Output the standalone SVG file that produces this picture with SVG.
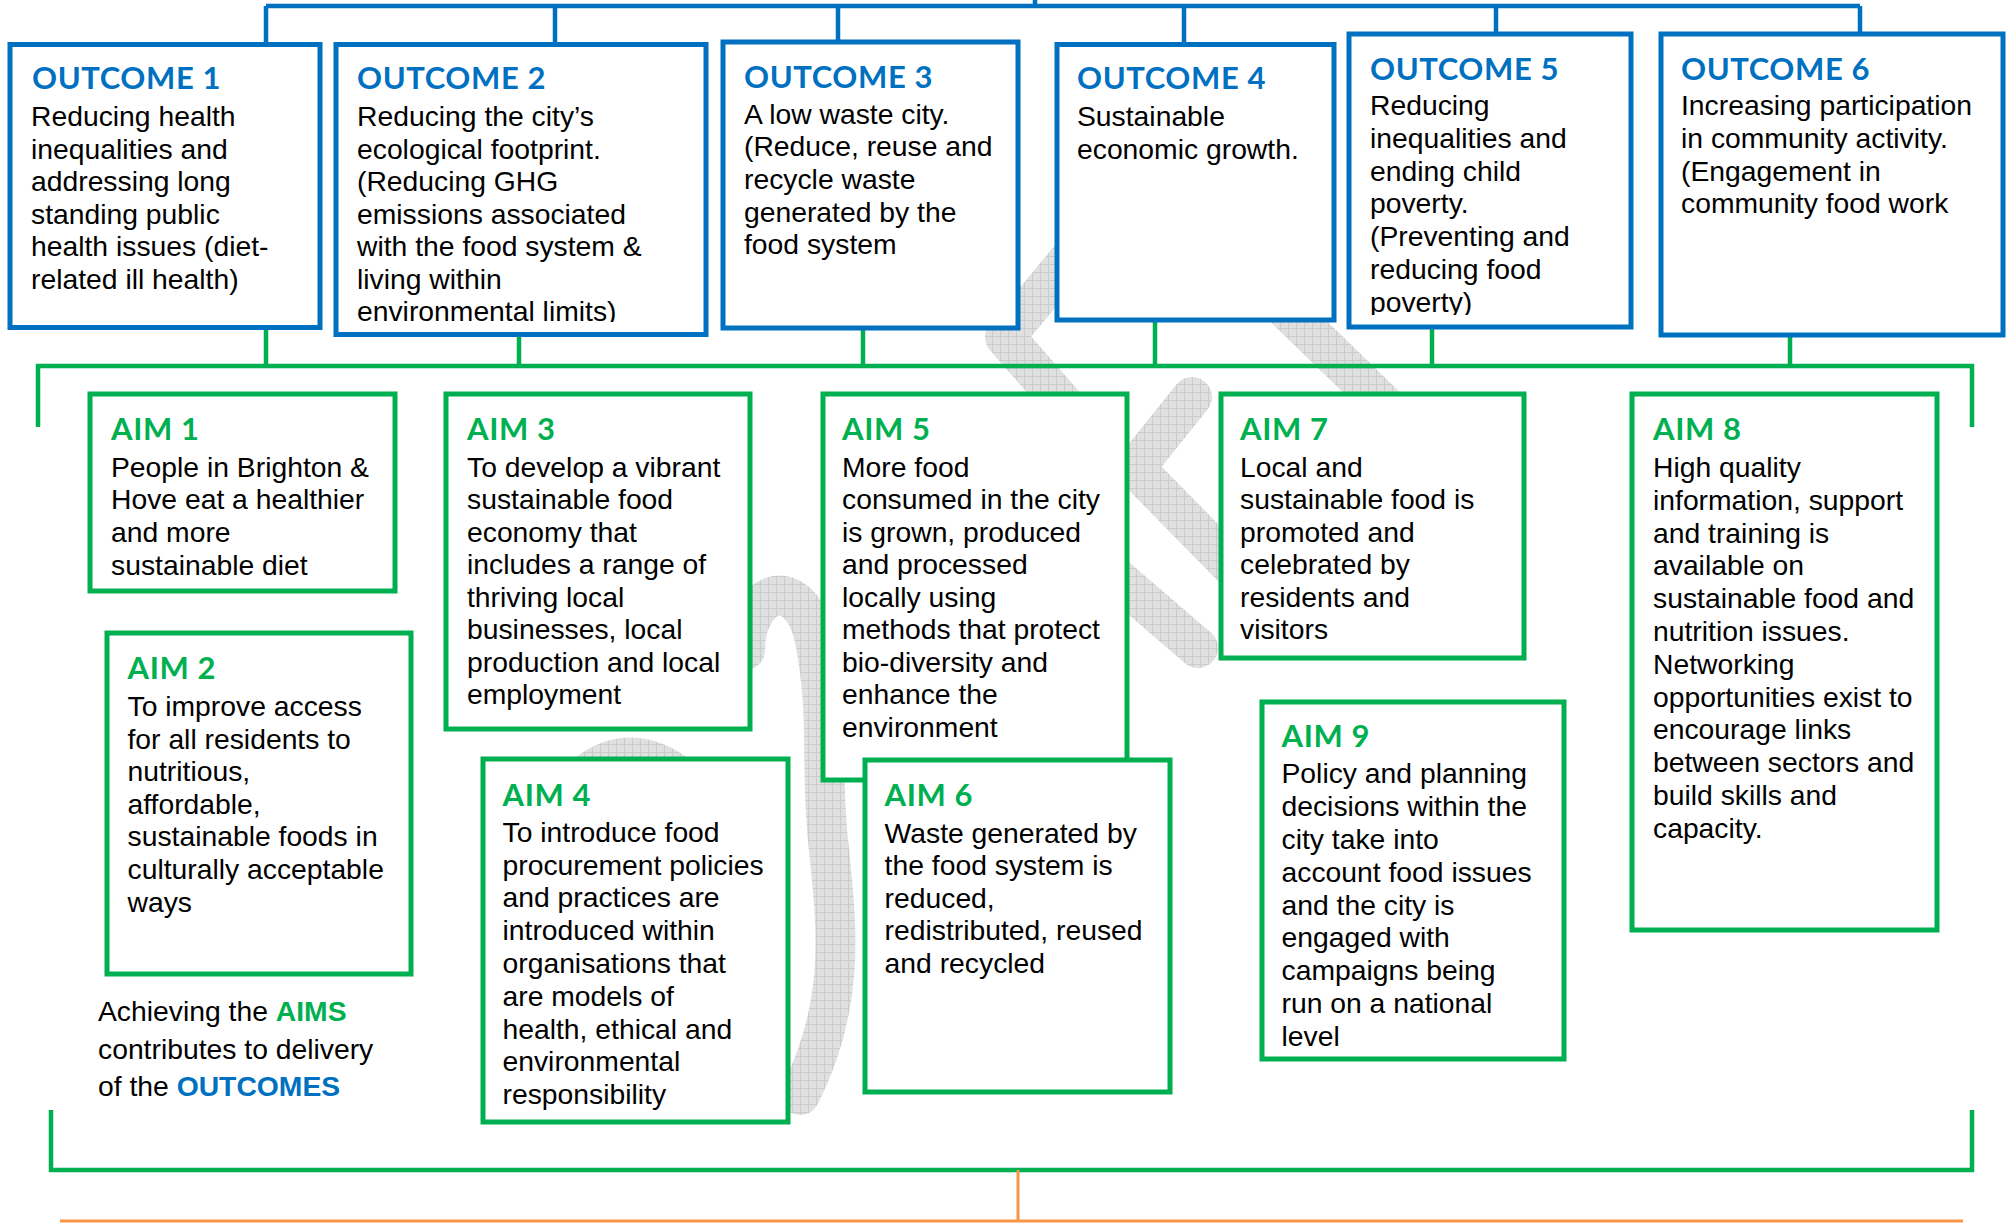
<svg xmlns="http://www.w3.org/2000/svg" width="2008" height="1223" viewBox="0 0 2008 1223">
<defs>
<pattern id="grid" patternUnits="userSpaceOnUse" width="8" height="8">
<rect width="8" height="8" fill="#e0e0e0"/>
<path d="M0,0.5H8M0.5,0V8" stroke="#cbcbcb" stroke-width="1"/>
</pattern>
<clipPath id="clipO2"><rect x="330" y="40" width="380" height="282"/></clipPath>
<clipPath id="clipO5"><rect x="1345" y="30" width="290" height="285"/></clipPath>
<style>
.ob{fill:#fff;stroke:#0070C0;stroke-width:5}
.ab{fill:#fff;stroke:#00B050;stroke-width:5}
.ot{font-family:Lato,"Liberation Sans",sans-serif;font-weight:700;font-size:31px;letter-spacing:0.6px;fill:#0070C0}
.at{font-family:Lato,"Liberation Sans",sans-serif;font-weight:700;font-size:31px;letter-spacing:0.6px;fill:#00B050}
.tx{font-family:"Liberation Sans",Arial,sans-serif;font-size:28.3px;fill:#000}
.bl{fill:none;stroke:#0070C0;stroke-width:4.5}
.gl{fill:none;stroke:#00B050;stroke-width:4.5}
.or{fill:none;stroke:#F79646;stroke-width:3}
.wm{fill:none;stroke:url(#grid);stroke-width:40;stroke-linecap:round;stroke-linejoin:round}
</style>
</defs>
<rect width="2008" height="1223" fill="#fff"/>
<g id="watermark">
<path class="wm" d="M1095,228 L1005,337 L1095,440"/>
<path class="wm" d="M1225,250 L1400,420"/>
<path class="wm" d="M1192,397 L1135,468 L1245,580"/>
<path class="wm" d="M1090,555 L1198,648"/>
<path class="wm" d="M745,650 C745,590 800,570 815,640 C830,720 820,760 828,840 C836,920 848,1000 800,1095"/>
<path class="wm" d="M540,830 Q625,690 720,820"/>
</g>
<g id="connectors">
<path class="bl" d="M266,6 H1860 M1035,0 V6 M266,6 V44 M555,6 V44 M838,6 V42 M1184,6 V44 M1496,6 V34 M1860,6 V36"/>
<path class="gl" d="M38,427 V366 H1972 V427 M266,328 V366 M519,334 V366 M863,328 V366 M1155,320 V366 M1432,327 V366 M1790,335 V366"/>
<path class="gl" d="M51,1110 V1170 H1972 V1110"/>
<path class="or" d="M1018,1170 V1221 M60,1221 H1963"/>
</g>
<g id="outcome1">
<rect class="ob" x="10" y="44.5" width="310" height="283"/>
<text class="ot" x="32" y="89">OUTCOME 1</text>
<text class="tx"><tspan x="31" y="126">Reducing health</tspan><tspan x="31" y="158.5">inequalities and</tspan><tspan x="31" y="191">addressing long</tspan><tspan x="31" y="223.5">standing public</tspan><tspan x="31" y="256">health issues (diet-</tspan><tspan x="31" y="288.5">related ill health)</tspan></text>
</g>
<g id="outcome2">
<rect class="ob" x="336" y="44.5" width="370" height="290"/>
<text class="ot" x="357" y="89">OUTCOME 2</text>
<text class="tx" clip-path="url(#clipO2)"><tspan x="357" y="126">Reducing the city’s</tspan><tspan x="357" y="158.5">ecological footprint.</tspan><tspan x="357" y="191">(Reducing GHG</tspan><tspan x="357" y="223.5">emissions associated</tspan><tspan x="357" y="256">with the food system &amp;</tspan><tspan x="357" y="288.5">living within</tspan><tspan x="357" y="321">environmental limits)</tspan></text>
</g>
<g id="outcome3">
<rect class="ob" x="723" y="42" width="295" height="286"/>
<text class="ot" x="744" y="88">OUTCOME 3</text>
<text class="tx"><tspan x="744" y="123.5">A low waste city.</tspan><tspan x="744" y="156">(Reduce, reuse and</tspan><tspan x="744" y="188.8">recycle waste</tspan><tspan x="744" y="221.5">generated by the</tspan><tspan x="744" y="254">food system</tspan></text>
</g>
<g id="outcome4">
<rect class="ob" x="1057" y="44.5" width="277" height="275.5"/>
<text class="ot" x="1077" y="89">OUTCOME 4</text>
<text class="tx"><tspan x="1077" y="126">Sustainable</tspan><tspan x="1077" y="158.5">economic growth.</tspan></text>
</g>
<g id="outcome5">
<rect class="ob" x="1349" y="34" width="282" height="293"/>
<text class="ot" x="1370" y="79.5">OUTCOME 5</text>
<text class="tx" clip-path="url(#clipO5)"><tspan x="1370" y="115">Reducing</tspan><tspan x="1370" y="147.8">inequalities and</tspan><tspan x="1370" y="180.6">ending child</tspan><tspan x="1370" y="213.4">poverty.</tspan><tspan x="1370" y="246.2">(Preventing and</tspan><tspan x="1370" y="279">reducing food</tspan><tspan x="1370" y="311.8">poverty)</tspan></text>
</g>
<g id="outcome6">
<rect class="ob" x="1661" y="34" width="342" height="301"/>
<text class="ot" x="1681" y="79.5">OUTCOME 6</text>
<text class="tx"><tspan x="1681" y="115">Increasing participation</tspan><tspan x="1681" y="147.8">in community activity.</tspan><tspan x="1681" y="180.6">(Engagement in</tspan><tspan x="1681" y="213.4">community food work</tspan></text>
</g>
<g id="aim1">
<rect class="ab" x="90" y="394" width="305" height="197"/>
<text class="at" x="111" y="440">AIM 1</text>
<text class="tx"><tspan x="111" y="476.5">People in Brighton &amp;</tspan><tspan x="111" y="509.2">Hove eat a healthier</tspan><tspan x="111" y="541.9">and more</tspan><tspan x="111" y="574.6">sustainable diet</tspan></text>
</g>
<g id="aim2">
<rect class="ab" x="107" y="633" width="304" height="341"/>
<text class="at" x="127.5" y="679">AIM 2</text>
<text class="tx"><tspan x="127.5" y="716">To improve access</tspan><tspan x="127.5" y="748.6">for all residents to</tspan><tspan x="127.5" y="781.2">nutritious,</tspan><tspan x="127.5" y="813.8">affordable,</tspan><tspan x="127.5" y="846.4">sustainable foods in</tspan><tspan x="127.5" y="879">culturally acceptable</tspan><tspan x="127.5" y="911.6">ways</tspan></text>
</g>
<g id="aim3">
<rect class="ab" x="446" y="394" width="304" height="335"/>
<text class="at" x="467" y="440">AIM 3</text>
<text class="tx"><tspan x="467" y="476.5">To develop a vibrant</tspan><tspan x="467" y="509">sustainable food</tspan><tspan x="467" y="541.5">economy that</tspan><tspan x="467" y="574">includes a range of</tspan><tspan x="467" y="606.5">thriving local</tspan><tspan x="467" y="639">businesses, local</tspan><tspan x="467" y="671.5">production and local</tspan><tspan x="467" y="704">employment</tspan></text>
</g>
<g id="aim4">
<rect class="ab" x="483" y="759" width="305" height="363"/>
<text class="at" x="502.5" y="806">AIM 4</text>
<text class="tx"><tspan x="502.5" y="841.7">To introduce food</tspan><tspan x="502.5" y="874.5">procurement policies</tspan><tspan x="502.5" y="907.3">and practices are</tspan><tspan x="502.5" y="940.1">introduced within</tspan><tspan x="502.5" y="972.9">organisations that</tspan><tspan x="502.5" y="1005.7">are models of</tspan><tspan x="502.5" y="1038.5">health, ethical and</tspan><tspan x="502.5" y="1071.3">environmental</tspan><tspan x="502.5" y="1104.1">responsibility</tspan></text>
</g>
<g id="aim5">
<rect class="ab" x="823" y="394" width="304" height="386"/>
<text class="at" x="842" y="440">AIM 5</text>
<text class="tx"><tspan x="842" y="476.7">More food</tspan><tspan x="842" y="509.2">consumed in the city</tspan><tspan x="842" y="541.7">is grown, produced</tspan><tspan x="842" y="574.2">and processed</tspan><tspan x="842" y="606.7">locally using</tspan><tspan x="842" y="639.2">methods that protect</tspan><tspan x="842" y="671.7">bio-diversity and</tspan><tspan x="842" y="704.2">enhance the</tspan><tspan x="842" y="736.7">environment</tspan></text>
</g>
<g id="aim6">
<rect class="ab" x="865" y="760" width="305" height="332"/>
<text class="at" x="884.6" y="806">AIM 6</text>
<text class="tx"><tspan x="884.6" y="842.7">Waste generated by</tspan><tspan x="884.6" y="875.2">the food system is</tspan><tspan x="884.6" y="907.7">reduced,</tspan><tspan x="884.6" y="940.2">redistributed, reused</tspan><tspan x="884.6" y="972.7">and recycled</tspan></text>
</g>
<g id="aim7">
<rect class="ab" x="1221" y="394" width="303" height="264"/>
<text class="at" x="1240" y="440">AIM 7</text>
<text class="tx"><tspan x="1240" y="476.5">Local and</tspan><tspan x="1240" y="509">sustainable food is</tspan><tspan x="1240" y="541.5">promoted and</tspan><tspan x="1240" y="574">celebrated by</tspan><tspan x="1240" y="606.5">residents and</tspan><tspan x="1240" y="639">visitors</tspan></text>
</g>
<g id="aim8">
<rect class="ab" x="1632" y="394" width="305" height="536"/>
<text class="at" x="1653" y="440">AIM 8</text>
<text class="tx"><tspan x="1653" y="476.9">High quality</tspan><tspan x="1653" y="509.7">information, support</tspan><tspan x="1653" y="542.5">and training is</tspan><tspan x="1653" y="575.3">available on</tspan><tspan x="1653" y="608.1">sustainable food and</tspan><tspan x="1653" y="640.9">nutrition issues.</tspan><tspan x="1653" y="673.7">Networking</tspan><tspan x="1653" y="706.5">opportunities exist to</tspan><tspan x="1653" y="739.3">encourage links</tspan><tspan x="1653" y="772.1">between sectors and</tspan><tspan x="1653" y="804.9">build skills and</tspan><tspan x="1653" y="837.7">capacity.</tspan></text>
</g>
<g id="aim9">
<rect class="ab" x="1262" y="702" width="302" height="357"/>
<text class="at" x="1281.5" y="746.7">AIM 9</text>
<text class="tx"><tspan x="1281.5" y="783.3">Policy and planning</tspan><tspan x="1281.5" y="816.1">decisions within the</tspan><tspan x="1281.5" y="848.9">city take into</tspan><tspan x="1281.5" y="881.7">account food issues</tspan><tspan x="1281.5" y="914.5">and the city is</tspan><tspan x="1281.5" y="947.3">engaged with</tspan><tspan x="1281.5" y="980.1">campaigns being</tspan><tspan x="1281.5" y="1012.9">run on a national</tspan><tspan x="1281.5" y="1045.7">level</tspan></text>
</g>
<g id="caption">
<text class="tx"><tspan x="98" y="1021">Achieving the <tspan font-weight="700" fill="#00B050">AIMS</tspan></tspan><tspan x="98" y="1058.5">contributes to delivery</tspan><tspan x="98" y="1096">of the <tspan font-weight="700" fill="#0070C0">OUTCOMES</tspan></tspan></text>
</g>
</svg>
